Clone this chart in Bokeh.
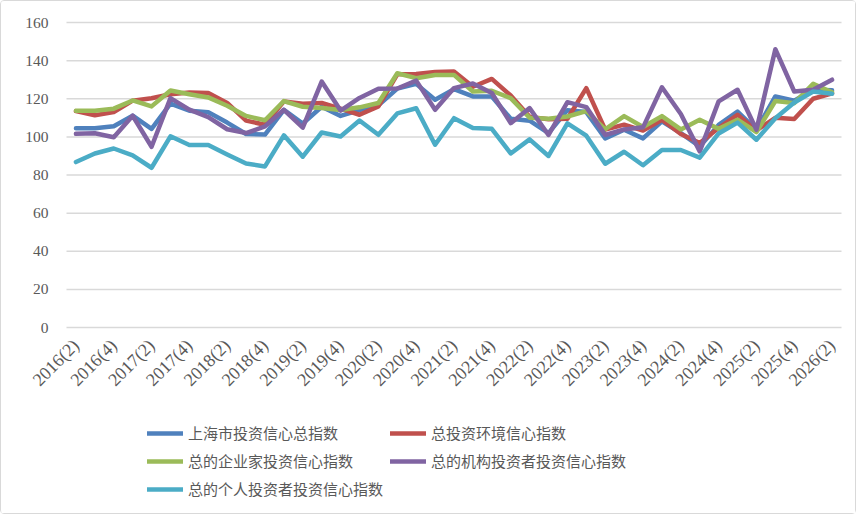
import math
from bokeh.plotting import figure
from bokeh.models import Range1d, FixedTicker, Legend, LegendItem
from bokeh.embed import file_html
from bokeh.resources import INLINE

# Quarter labels, 2016Q2 .. 2026Q2
quarters = [
    "2016(2)", "2016(3)", "2016(4)",
    "2017(1)", "2017(2)", "2017(3)", "2017(4)",
    "2018(1)", "2018(2)", "2018(3)", "2018(4)",
    "2019(1)", "2019(2)", "2019(3)", "2019(4)",
    "2020(1)", "2020(2)", "2020(3)", "2020(4)",
    "2021(1)", "2021(2)", "2021(3)", "2021(4)",
    "2022(1)", "2022(2)", "2022(3)", "2022(4)",
    "2023(1)", "2023(2)", "2023(3)", "2023(4)",
    "2024(1)", "2024(2)", "2024(3)", "2024(4)",
    "2025(1)", "2025(2)", "2025(3)", "2025(4)",
    "2026(1)", "2026(2)",
]

total_index = [104.5, 104.5, 105.6, 111.1, 104.2, 117.4, 113.7, 112.9, 107.5, 101.5,
               101.2, 114.2, 107.0, 115.8, 111.0, 114.0, 116.5, 125.3, 127.8, 119.5,
               125.0, 121.2, 121.2, 109.5, 108.5, 102.0, 114.0, 113.0, 99.2, 103.7,
               99.2, 108.2, 102.0, 95.0, 106.3, 113.3, 103.7, 121.2, 119.0, 124.7,
               124.5]
environment = [113.5, 111.3, 113.0, 119.0, 120.3, 122.4, 123.3, 123.0, 117.8, 108.5,
               106.4, 118.6, 117.4, 117.8, 114.8, 111.6, 116.0, 132.8, 133.0, 134.0,
               134.3, 126.3, 130.4, 121.7, 110.5, 109.2, 109.5, 125.6, 103.8, 106.4,
               103.3, 109.0, 101.5, 96.8, 104.6, 111.6, 103.4, 110.0, 109.4, 120.0,
               122.8]
entrepreneurs = [113.7, 113.7, 114.8, 119.1, 116.0, 124.3, 122.4, 120.7, 116.3, 111.0,
                 108.7, 118.8, 115.8, 115.1, 114.1, 115.5, 117.8, 133.4, 130.8, 132.5,
                 132.5, 123.8, 124.2, 120.3, 110.0, 109.5, 110.7, 113.5, 104.0, 110.9,
                 105.2, 110.9, 103.9, 109.0, 104.2, 109.0, 102.5, 118.8, 117.7, 127.8,
                 123.4]
institutions = [101.6, 101.9, 99.8, 111.1, 94.8, 120.3, 114.3, 110.4, 104.0, 102.0,
                105.5, 114.2, 104.8, 129.0, 113.8, 120.4, 125.3, 125.4, 129.5, 114.2,
                125.6, 128.0, 123.0, 107.2, 115.1, 101.0, 118.2, 115.6, 101.0, 103.9,
                105.0, 126.0, 112.0, 92.4, 118.6, 124.7, 103.7, 146.0, 123.8, 124.7,
                130.0]
individuals = [86.8, 91.3, 93.9, 90.3, 83.8, 100.3, 95.7, 95.7, 90.8, 86.0,
               84.5, 100.8, 89.6, 102.3, 100.2, 108.6, 101.1, 112.3, 115.0, 95.9,
               109.8, 104.6, 104.2, 91.3, 98.7, 90.0, 107.1, 100.6, 85.9, 92.2,
               85.1, 93.1, 93.1, 89.1, 101.8, 107.5, 98.5, 109.8, 118.0, 123.8,
               122.6]

series_names = ["上海市投资信心总指数", "总投资环境信心指数", "总的企业家投资信心指数",
                "总的机构投资者投资信心指数", "总的个人投资者投资信心指数"]
series_values = [total_index, environment, entrepreneurs, institutions, individuals]
series_colors = ["#4F81BD", "#C0504D", "#9BBB59", "#8064A2", "#4BACC6"]

y_ticks = [0, 20, 40, 60, 80, 100, 120, 140, 160]
x_positions = list(range(len(quarters)))
label_positions = x_positions[::2]

# Canvas layout (px). The frame fills the whole canvas so that the axis
# labels and the legend (all placed in data/screen space) are not clipped;
# the plotting area proper covers px 65..840 horizontally and the 0..160
# value band covers 305 px vertically starting 21 px from the top.
W, H = 856, 514
top = 21.0
plot_left, plot_right = 65.0, 840.0
value_px = 305.0
n = len(quarters)
cat_lo, cat_hi = -0.5, n - 0.5
px_per_cat = (plot_right - plot_left) / (cat_hi - cat_lo)
x_lo = cat_lo - plot_left / px_per_cat
x_hi = cat_hi + (W - plot_right) / px_per_cat
px_per_val = value_px / 160.0
y_hi = 160 + top / px_per_val
y_lo = -(H - top - value_px) / px_per_val

p = figure(width=W, height=H,
           x_range=Range1d(x_lo, x_hi), y_range=Range1d(y_lo, y_hi),
           output_backend="svg", toolbar_location=None,
           min_border_left=0, min_border_right=0,
           min_border_top=0, min_border_bottom=0)
p.styles = {"border": "1px solid #d9d9d9", "border-radius": "4px"}
p.outline_line_color = None
p.background_fill_color = "white"
p.border_fill_color = "white"

axis_font = "Liberation Serif"
label_color = "#595959"

# value axis pinned at the left edge of the category band
p.yaxis.fixed_location = cat_lo
p.yaxis.ticker = FixedTicker(ticks=y_ticks)
p.yaxis.axis_line_color = None
p.yaxis.major_tick_line_color = None
p.yaxis.minor_tick_line_color = None
p.yaxis.major_label_standoff = 12
p.yaxis.major_label_text_font = axis_font
p.yaxis.major_label_text_font_size = "15.5px"
p.yaxis.major_label_text_color = label_color

# category axis pinned at value 0
p.xaxis.fixed_location = 0
p.xaxis.ticker = FixedTicker(ticks=label_positions)
p.xaxis.major_label_overrides = {i: quarters[i] for i in label_positions}
p.xaxis.major_label_orientation = math.pi / 4
p.xaxis.axis_line_color = None
p.xaxis.major_tick_line_color = None
p.xaxis.minor_tick_line_color = None
p.xaxis.major_label_standoff = 9
p.xaxis.major_label_text_font = axis_font
p.xaxis.major_label_text_font_size = "18px"
p.xaxis.major_label_text_color = label_color

# horizontal gridlines limited to the category band
p.xgrid.visible = False
p.ygrid.visible = False
p.segment(x0=[cat_lo] * len(y_ticks), x1=[cat_hi] * len(y_ticks),
          y0=y_ticks, y1=y_ticks, line_color="#d9d9d9", line_width=1.5)

items = []
for name, vals, col in zip(series_names, series_values, series_colors):
    r = p.line(x_positions, vals, line_color=col, line_width=4.5,
               line_join="round", line_cap="round")
    items.append(LegendItem(label=name, renderers=[r]))

legend = Legend(items=items, location=(146, 16), orientation="horizontal", ncols=2,
                glyph_width=36, glyph_height=20, label_height=20, label_standoff=5,
                spacing=7, padding=0, margin=0,
                label_text_font="Noto Sans CJK SC", label_text_font_size="15px",
                label_text_color=label_color,
                border_line_color=None, background_fill_alpha=0)
p.add_layout(legend, "center")

open("out.html", "w").write(file_html(p, INLINE))
